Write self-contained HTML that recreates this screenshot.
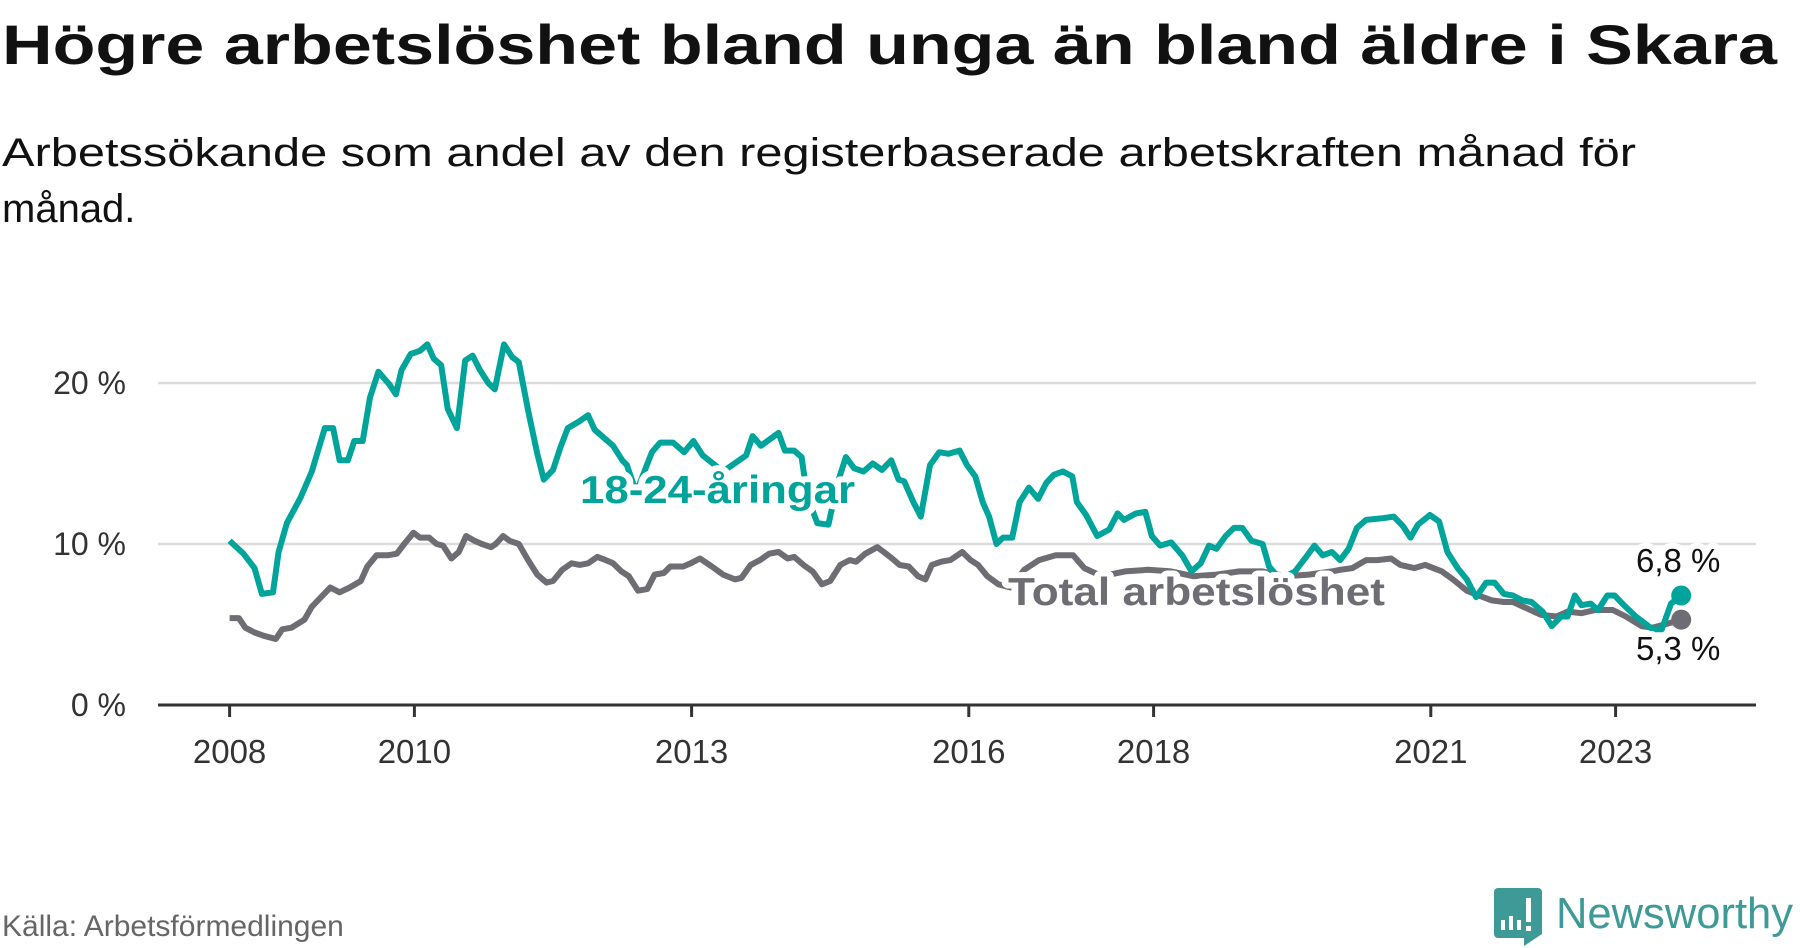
<!DOCTYPE html>
<html><head><meta charset="utf-8"><style>
html,body{margin:0;padding:0;background:#fff;}
svg{display:block;font-family:"Liberation Sans",sans-serif;}
</style></head><body>
<svg id="chart" width="1800" height="948" viewBox="0 0 1800 948">
<text x="2" y="64" font-size="56" font-weight="bold" fill="#111" textLength="1775" lengthAdjust="spacingAndGlyphs">Högre arbetslöshet bland unga än bland äldre i Skara</text>
<text x="2" y="166" font-size="40" fill="#111" textLength="1634" lengthAdjust="spacingAndGlyphs">Arbetssökande som andel av den registerbaserade arbetskraften månad för</text>
<text x="2" y="222" font-size="40" fill="#111">månad.</text>
<g id="grid"></g>
<g id="yticks"></g>
<g id="xaxis"></g>
<g id="series"></g>
<text x="2" y="936" font-size="30" fill="#666">Källa: Arbetsförmedlingen</text>
<g>
<path d="M1494 888 h44 a4 4 0 0 1 4 4 v42 l-18 12 v-8 h-26 a4 4 0 0 1 -4 -4 v-42 a4 4 0 0 1 4 -4z" fill="#3d9a96"/>
<rect x="1501" y="920" width="4" height="10" fill="#fff"/><rect x="1509" y="916" width="4" height="14" fill="#fff"/><rect x="1517" y="920" width="4" height="10" fill="#fff"/><rect x="1526" y="898" width="5" height="24" fill="#fff"/><rect x="1526" y="926" width="5" height="5" fill="#fff"/>
<text x="1556" y="928" font-size="44" fill="#3d9a96" textLength="237" lengthAdjust="spacingAndGlyphs">Newsworthy</text>
</g>
</svg>
<script>
const yTicks=[0,10,20];
const yTickLabels=["0 %","10 %","20 %"];
const xTicks=[2008,2010,2013,2016,2018,2021,2023];
const youthDates=[2008,2008.15,2008.27,2008.35,2008.47,2008.53,2008.62,2008.77,2008.89,2009.03,2009.12,2009.19,2009.28,2009.35,2009.44,2009.52,2009.61,2009.73,2009.80,2009.86,2009.96,2010.06,2010.14,2010.21,2010.29,2010.36,2010.46,2010.55,2010.63,2010.71,2010.80,2010.87,2010.97,2011.06,2011.13,2011.23,2011.33,2011.40,2011.50,2011.58,2011.66,2011.78,2011.88,2011.95,2012.05,2012.15,2012.25,2012.30,2012.40,2012.57,2012.66,2012.80,2012.92,2013.02,2013.12,2013.34,2013.59,2013.66,2013.75,2013.94,2014.01,2014.11,2014.19,2014.25,2014.36,2014.48,2014.58,2014.67,2014.76,2014.86,2014.96,2015.06,2015.16,2015.24,2015.30,2015.40,2015.48,2015.58,2015.68,2015.78,2015.90,2015.98,2016.07,2016.15,2016.22,2016.30,2016.37,2016.47,2016.55,2016.65,2016.75,2016.84,2016.92,2017.02,2017.12,2017.17,2017.27,2017.39,2017.52,2017.61,2017.68,2017.81,2017.91,2017.98,2018.07,2018.19,2018.31,2018.41,2018.51,2018.60,2018.68,2018.78,2018.87,2018.96,2019.06,2019.18,2019.25,2019.37,2019.53,2019.65,2019.74,2019.83,2019.93,2020.02,2020.11,2020.20,2020.30,2020.48,2020.60,2020.70,2020.78,2020.86,2020.99,2021.09,2021.18,2021.29,2021.39,2021.49,2021.60,2021.69,2021.79,2021.89,2021.99,2022.09,2022.21,2022.31,2022.41,2022.48,2022.56,2022.63,2022.73,2022.81,2022.91,2022.99,2023.09,2023.22,2023.40,2023.50,2023.60,2023.71];
const youthValues=[10.2,9.4,8.5,6.9,7.0,9.5,11.3,12.9,14.5,17.2,17.2,15.2,15.2,16.4,16.4,19.1,20.7,19.9,19.3,20.8,21.8,22.0,22.4,21.5,21.1,18.4,17.2,21.4,21.7,20.8,20.0,19.6,22.4,21.6,21.3,18.3,15.6,14.0,14.6,16.0,17.2,17.6,18.0,17.1,16.6,16.1,15.2,14.9,13.2,15.7,16.3,16.3,15.7,16.4,15.5,14.5,15.5,16.7,16.1,16.9,15.8,15.8,15.4,13.0,11.3,11.2,13.8,15.4,14.7,14.5,15.0,14.6,15.2,14.0,13.9,12.6,11.7,14.9,15.7,15.6,15.8,14.9,14.2,12.6,11.7,10.0,10.4,10.4,12.6,13.5,12.8,13.8,14.3,14.5,14.2,12.6,11.8,10.5,10.9,11.9,11.5,11.9,12.0,10.5,9.9,10.1,9.3,8.3,8.8,9.9,9.7,10.5,11.0,11.0,10.2,10.0,8.6,7.8,8.3,9.2,9.9,9.3,9.5,9.0,9.7,11.0,11.5,11.6,11.7,11.1,10.4,11.2,11.8,11.4,9.5,8.5,7.8,6.7,7.6,7.6,6.9,6.8,6.5,6.4,5.8,4.9,5.5,5.5,6.8,6.2,6.3,5.9,6.8,6.8,6.2,5.5,4.7,4.7,6.3,6.8];
const totalDates=[2008,2008.10,2008.17,2008.27,2008.37,2008.50,2008.57,2008.67,2008.81,2008.89,2008.99,2009.09,2009.19,2009.30,2009.42,2009.49,2009.59,2009.71,2009.81,2009.89,2009.99,2010.06,2010.16,2010.24,2010.31,2010.40,2010.48,2010.56,2010.65,2010.73,2010.83,2010.88,2010.96,2011.03,2011.13,2011.23,2011.33,2011.43,2011.50,2011.60,2011.70,2011.79,2011.88,2011.98,2012.07,2012.15,2012.24,2012.32,2012.42,2012.52,2012.60,2012.70,2012.77,2012.91,2012.99,2013.09,2013.22,2013.34,2013.47,2013.54,2013.64,2013.74,2013.84,2013.94,2014.04,2014.11,2014.21,2014.31,2014.41,2014.50,2014.61,2014.71,2014.78,2014.88,2015.01,2015.08,2015.17,2015.25,2015.35,2015.45,2015.53,2015.60,2015.70,2015.80,2015.93,2016.02,2016.10,2016.20,2016.32,2016.45,2016.60,2016.76,2016.94,2017.13,2017.25,2017.44,2017.69,2017.94,2018.19,2018.43,2018.68,2018.93,2019.18,2019.43,2019.68,2019.93,2020.02,2020.15,2020.30,2020.42,2020.57,2020.67,2020.82,2020.94,2021.12,2021.24,2021.39,2021.52,2021.66,2021.79,2021.89,2022.04,2022.19,2022.36,2022.48,2022.63,2022.78,2022.97,2023.11,2023.28,2023.40,2023.53,2023.71];
const totalValues=[5.4,5.4,4.8,4.5,4.3,4.1,4.7,4.8,5.3,6.1,6.7,7.3,7.0,7.3,7.7,8.6,9.3,9.3,9.4,10.0,10.7,10.4,10.4,10.0,9.9,9.1,9.5,10.5,10.2,10.0,9.8,10.0,10.5,10.2,10.0,9.0,8.1,7.6,7.7,8.4,8.8,8.7,8.8,9.2,9.0,8.8,8.3,8.0,7.1,7.2,8.1,8.2,8.6,8.6,8.8,9.1,8.6,8.1,7.8,7.9,8.7,9.0,9.4,9.5,9.1,9.2,8.7,8.3,7.5,7.7,8.7,9.0,8.9,9.4,9.8,9.5,9.1,8.7,8.6,8.0,7.8,8.7,8.9,9.0,9.5,9.0,8.7,8.0,7.5,7.3,8.4,9.0,9.3,9.3,8.5,8.0,8.3,8.4,8.3,8.0,8.1,8.3,8.3,8.0,8.1,8.3,8.4,8.5,9.0,9.0,9.1,8.7,8.5,8.7,8.3,7.8,7.1,6.8,6.5,6.4,6.4,6.0,5.6,5.5,5.8,5.7,5.9,5.9,5.5,4.9,4.8,5.0,5.3];

const NS='http://www.w3.org/2000/svg';
const X0=158,X1=1756;
function xs(d){return 229.6+(d-2008)*92.4;}
function ys(v){return 705-v*16.1;}
function mk(tag,attrs,parent){const e=document.createElementNS(NS,tag);for(const k in attrs)e.setAttribute(k,attrs[k]);parent.appendChild(e);return e;}
const grid=document.getElementById('grid'),yt=document.getElementById('yticks'),xa=document.getElementById('xaxis'),ser=document.getElementById('series');
yTicks.forEach((t,i)=>{
  if(t>0){const l=mk('line',{x1:X0,x2:X1,y1:ys(t),y2:ys(t),stroke:'#dcdcdc','stroke-width':2.5},grid);
  
  }
  const tx=mk('text',{x:126,y:ys(t)+11,'font-size':32,fill:'#333','text-anchor':'end'},yt);
  tx.textContent=yTickLabels[i];
  
  
});
const ax=mk('line',{x1:X0,x2:X1,y1:705,y2:705,stroke:'#333','stroke-width':3},xa);


xTicks.forEach(t=>{
  const tk=mk('line',{x1:xs(t),x2:xs(t),y1:705,y2:717,stroke:'#333','stroke-width':3},xa);
  
  
  const tx=mk('text',{x:xs(t),y:763,'font-size':33,fill:'#333','text-anchor':'middle'},xa);
  tx.textContent=t;
  
  
});
function path(dates,vals){return dates.map((d,i)=>(i?'L':'M')+xs(d).toFixed(1)+' '+ys(vals[i]).toFixed(1)).join(' ');}
const pt=mk('path',{d:path(totalDates,totalValues),fill:'none',stroke:'#6e6d73','stroke-width':6,'stroke-linejoin':'round'},ser);


const py=mk('path',{d:path(youthDates,youthValues),fill:'none',stroke:'#00a49a','stroke-width':6,'stroke-linejoin':'round'},ser);


const lt=totalDates.length-1,ly=youthDates.length-1;
const dt=mk('circle',{cx:xs(totalDates[lt]),cy:ys(totalValues[lt]),r:10,fill:'#6e6d73'},ser);


const dy=mk('circle',{cx:xs(youthDates[ly]),cy:ys(youthValues[ly]),r:10,fill:'#00a49a'},ser);


function label(txt,x,y,size,fill,weight,name,len){
  const t=mk('text',{x:x,y:y,'font-size':size,fill:fill,'font-weight':weight,stroke:'#fff','stroke-width':12,'stroke-linejoin':'round','paint-order':'stroke'},ser);
  if(len){t.setAttribute('textLength',len);t.setAttribute('lengthAdjust','spacingAndGlyphs');}
  t.textContent=txt;
  
  
}
label('18-24-åringar',580,503,39,'#00a49a','bold','youth-series-label',275);
label('Total arbetslöshet',1008,605,39,'#6e6d73','bold','total-series-label',377);
label(String(youthValues[ly]).replace('.',',')+' %',1636,572,33,'#111','normal','youth-end-value');
label(String(totalValues[lt]).replace('.',',')+' %',1636,660,33,'#111','normal','total-end-value');
</script>
</body></html>
